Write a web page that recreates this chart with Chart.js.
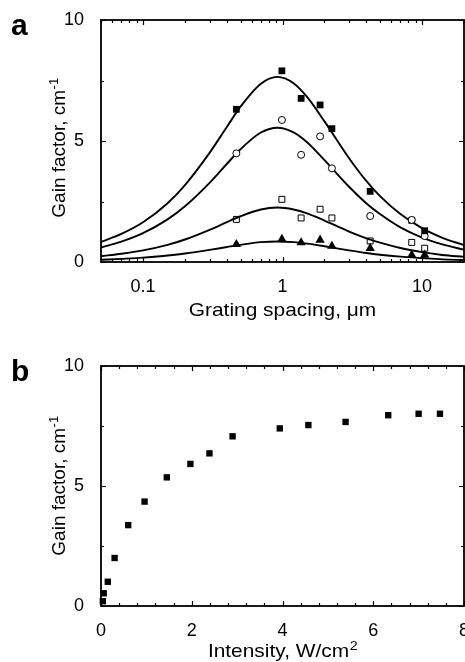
<!DOCTYPE html>
<html>
<head>
<meta charset="utf-8">
<script src="https://cdn.jsdelivr.net/npm/chart.js@4.4.1/dist/chart.umd.min.js"></script>
<style>
  html, body { margin: 0; padding: 0; background: #fff; overflow: hidden; width: 465px; height: 662px; }
  canvas { position: absolute; left: 0; }
  #chart-a { top: 0; }
  #chart-b { top: 330px; }
</style>
</head>
<body>
<canvas id="chart-a" width="480" height="330"></canvas>
<canvas id="chart-b" width="480" height="332"></canvas>
<script>
// ---- panel a: gain vs grating spacing (log axis) ----
const fitX = [0.05, 0.07, 0.1, 0.15, 0.2, 0.3, 0.4, 0.5, 0.7, 0.92, 1.2, 1.5, 2, 3, 4, 5, 7, 10, 14, 20];
const fitTop = [0.83, 1.16, 1.64, 2.43, 3.18, 4.51, 5.59, 6.42, 7.37, 7.65, 7.39, 6.82, 5.81, 4.29, 3.34, 2.72, 1.98, 1.40, 1.00, 0.70];
const fitSecond = [0.60, 0.84, 1.19, 1.76, 2.30, 3.27, 4.06, 4.66, 5.35, 5.55, 5.36, 4.95, 4.21, 3.11, 2.42, 1.98, 1.43, 1.01, 0.73, 0.51];
const fitThird = [0.24, 0.34, 0.48, 0.71, 0.93, 1.33, 1.65, 1.89, 2.17, 2.25, 2.17, 2.01, 1.71, 1.26, 0.98, 0.80, 0.58, 0.41, 0.29, 0.21];
const fitFourth = [0.09, 0.13, 0.18, 0.27, 0.35, 0.50, 0.62, 0.71, 0.82, 0.85, 0.82, 0.76, 0.65, 0.48, 0.37, 0.30, 0.22, 0.16, 0.11, 0.08];

const filledSqX = [0.467, 0.99, 1.36, 1.86, 2.26, 4.25, 10.45];
const filledSqY = [6.31, 7.90, 6.76, 6.49, 5.51, 2.92, 1.29];
const circleX = [0.467, 0.99, 1.36, 1.86, 2.26, 4.25, 8.44, 10.45];
const circleY = [4.49, 5.87, 4.43, 5.19, 3.87, 1.90, 1.74, 1.07];
const openSqX = [0.467, 0.99, 1.36, 1.86, 2.26, 4.25, 8.44, 8.44, 10.45];
const openSqY = [1.76, 2.59, 1.82, 2.18, 1.82, 0.87, 1.72, 0.81, 0.57];
const triX = [0.467, 0.99, 1.36, 1.86, 2.26, 4.25, 8.44, 10.45];
const triY = [0.73, 0.94, 0.80, 0.91, 0.66, 0.57, 0.29, 0.29];

// ---- panel b: gain vs intensity ----
const intensity = [0.04, 0.06, 0.15, 0.30, 0.60, 0.96, 1.45, 1.97, 2.39, 2.90, 3.94, 4.57, 5.39, 6.33, 7.00, 7.47];
const gainB = [0.20, 0.53, 1.01, 2.00, 3.37, 4.35, 5.36, 5.92, 6.36, 7.07, 7.40, 7.54, 7.67, 7.95, 8.01, 8.01];

// ticks
const spacingMajor = [0.1, 1, 10];
const spacingMinor = [0.05, 0.06, 0.07, 0.08, 0.09, 0.2, 0.3, 0.4, 0.5, 0.6, 0.7, 0.8, 0.9, 2, 3, 4, 5, 6, 7, 8, 9, 20];
const gainMajor = [0, 5, 10];
const gainMinor = [2.5, 7.5];
const intensityMajor = [0, 2, 4, 6, 8];
const intensityMinor = [0.4, 0.8, 1.2, 1.6, 2.4, 2.8, 3.2, 3.6, 4.4, 4.8, 5.2, 5.6, 6.4, 6.8, 7.2, 7.6];

const FONT = "'Liberation Sans', Arial, Helvetica, sans-serif";

function pts(xs, ys) {
  return xs.map((x, i) => ({ x: x, y: ys[i] }));
}

// frame, inward ticks on all four sides, titles and panel letter
const decorations = {
  id: "decorations",
  afterDatasetsDraw(chart, args, opts) {
    const ctx = chart.ctx;
    const a = chart.chartArea;
    const xs = chart.scales.x;
    const ys = chart.scales.y;
    ctx.save();
    ctx.strokeStyle = "#000";
    ctx.lineWidth = 1.8;
    ctx.strokeRect(a.left, a.top, a.right - a.left, a.bottom - a.top);

    ctx.lineWidth = 1.2;
    ctx.beginPath();
    const xTick = (v, len) => {
      const p = Math.round(xs.getPixelForValue(v)) + 0.5;
      ctx.moveTo(p, a.bottom); ctx.lineTo(p, a.bottom - len);
      ctx.moveTo(p, a.top); ctx.lineTo(p, a.top + len);
    };
    const yTick = (v, len) => {
      const p = Math.round(ys.getPixelForValue(v)) + 0.5;
      ctx.moveTo(a.left, p); ctx.lineTo(a.left + len, p);
      ctx.moveTo(a.right, p); ctx.lineTo(a.right - len, p);
    };
    opts.xMajor.forEach(v => xTick(v, 5));
    opts.xMinor.forEach(v => xTick(v, 3));
    gainMajor.forEach(v => yTick(v, 5));
    gainMinor.forEach(v => yTick(v, 3));
    ctx.stroke();

    ctx.fillStyle = "#000";
    // panel letter
    ctx.font = "bold 30px " + FONT;
    ctx.textAlign = "left";
    ctx.textBaseline = "alphabetic";
    ctx.fillText(opts.letter, 11, opts.letterY);

    // x title (slightly wide like the original)
    const cx = (a.left + a.right) / 2;
    ctx.save();
    ctx.translate(cx, opts.xTitleY);
    ctx.scale(1.1, 1);
    drawSup(ctx, opts.xTitle, opts.xSup, 0, 0);
    ctx.restore();

    // y title
    ctx.save();
    ctx.translate(65, opts.yTitleCenter);
    ctx.rotate(-Math.PI / 2);
    drawSup(ctx, "Gain factor, cm", "-1", 0, 0);
    ctx.restore();
    ctx.restore();
  }
};

function drawSup(ctx, main, sup, cx, y) {
  ctx.font = "19px " + FONT;
  const wMain = ctx.measureText(main).width;
  ctx.font = "13px " + FONT;
  const wSup = sup ? ctx.measureText(sup).width : 0;
  const start = cx - (wMain + wSup) / 2;
  ctx.textAlign = "left";
  ctx.textBaseline = "alphabetic";
  ctx.font = "19px " + FONT;
  ctx.fillText(main, start, y);
  if (sup) {
    ctx.font = "13px " + FONT;
    ctx.fillText(sup, start + wMain + 0.5, y - 7);
  }
}

const tickFont = { family: FONT, size: 18 };

function yScale() {
  return {
    min: 0,
    max: 10,
    grid: { display: false },
    border: { display: false },
    afterBuildTicks: s => { s.ticks = gainMajor.map(v => ({ value: v })); },
    afterFit: s => { s.width = 101; },
    ticks: { font: tickFont, color: "#000", padding: 9 }
  };
}

const curveStyle = {
  showLine: true,
  pointRadius: 0,
  borderColor: "#000",
  borderWidth: 1.9,
  cubicInterpolationMode: "monotone"
};

const chartA = new Chart(document.getElementById("chart-a"), {
  type: "scatter",
  data: {
    datasets: [
      { data: pts(filledSqX, filledSqY), pointStyle: "rect", pointRadius: 4.8, backgroundColor: "#000", borderColor: "#000", borderWidth: 0 },
      { data: pts(circleX, circleY), pointStyle: "circle", pointRadius: 3.5, backgroundColor: "#fff", borderColor: "#000", borderWidth: 1 },
      { data: pts(openSqX, openSqY), pointStyle: "rect", pointRadius: 4.2, backgroundColor: "rgba(255,255,255,0)", borderColor: "#000", borderWidth: 1 },
      { data: pts(triX, triY), pointStyle: "triangle", pointRadius: 5.4, backgroundColor: "#000", borderColor: "#000", borderWidth: 0 },
      Object.assign({ data: pts(fitX, fitTop) }, curveStyle),
      Object.assign({ data: pts(fitX, fitSecond) }, curveStyle),
      Object.assign({ data: pts(fitX, fitThird) }, curveStyle),
      Object.assign({ data: pts(fitX, fitFourth) }, curveStyle)
    ]
  },
  options: {
    responsive: false,
    animation: false,
    events: [],
    layout: { padding: { top: 20, right: 16, left: 0, bottom: 0 } },
    plugins: {
      legend: { display: false },
      tooltip: { enabled: false },
      decorations: {
        xMajor: spacingMajor, xMinor: spacingMinor,
        letter: "a", letterY: 35,
        xTitle: "Grating spacing, \u03bcm", xSup: "", xTitleY: 316,
        yTitleCenter: 148
      }
    },
    scales: {
      x: {
        type: "logarithmic",
        min: 0.05,
        max: 20,
        grid: { display: false },
        border: { display: false },
        afterBuildTicks: s => { s.ticks = spacingMajor.map(v => ({ value: v })); },
        afterFit: s => { s.height = 68; },
        ticks: { font: tickFont, color: "#000", padding: 6, maxRotation: 0, autoSkip: false, callback: v => String(v) }
      },
      y: yScale()
    }
  },
  plugins: [decorations]
});

const chartB = new Chart(document.getElementById("chart-b"), {
  type: "scatter",
  data: {
    datasets: [
      { data: pts(intensity, gainB), pointStyle: "rect", pointRadius: 4.5, backgroundColor: "#000", borderColor: "#000", borderWidth: 0, clip: 10 }
    ]
  },
  options: {
    responsive: false,
    animation: false,
    events: [],
    layout: { padding: { top: 36, right: 16, left: 0, bottom: 0 } },
    plugins: {
      legend: { display: false },
      tooltip: { enabled: false },
      decorations: {
        xMajor: intensityMajor, xMinor: intensityMinor,
        letter: "b", letterY: 51,
        xTitle: "Intensity, W/cm", xSup: "2", xTitleY: 327,
        yTitleCenter: 156
      }
    },
    scales: {
      x: {
        type: "linear",
        min: 0,
        max: 8,
        grid: { display: false },
        border: { display: false },
        afterBuildTicks: s => { s.ticks = intensityMajor.map(v => ({ value: v })); },
        afterFit: s => { s.height = 56; },
        ticks: { font: tickFont, color: "#000", padding: 6, maxRotation: 0, autoSkip: false }
      },
      y: yScale()
    }
  },
  plugins: [decorations]
});
</script>
</body>
</html>
